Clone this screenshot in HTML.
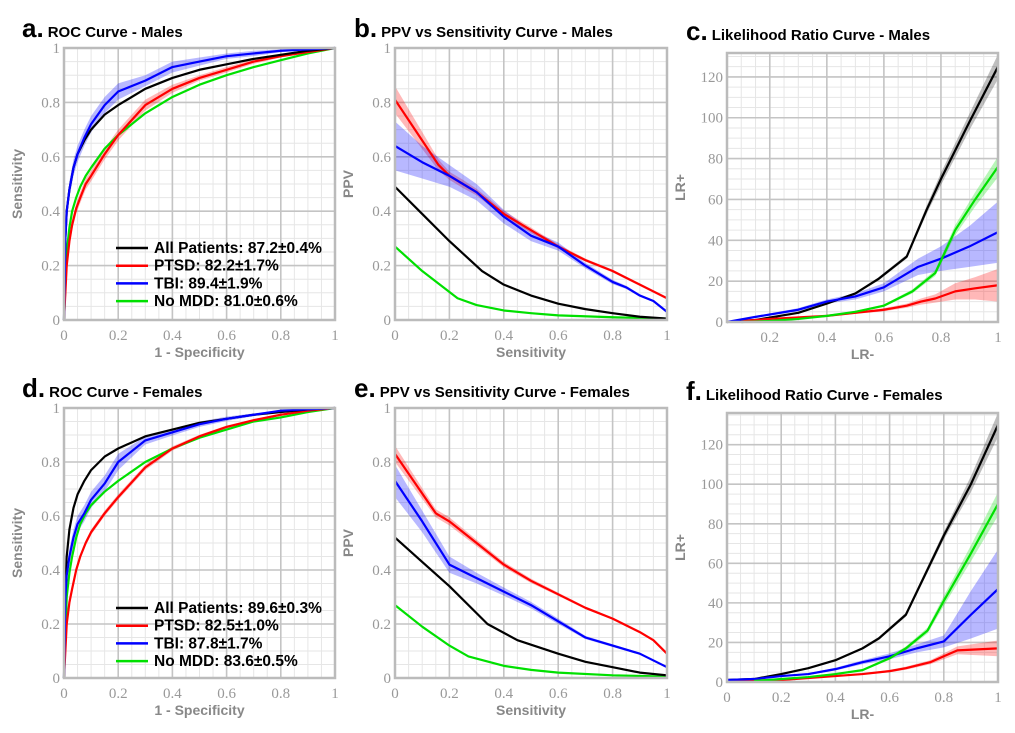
<!DOCTYPE html>
<html><head><meta charset="utf-8"><style>
body{margin:0;background:#fff;}
svg{display:block;}
.tick{font-family:"Liberation Serif",serif;font-size:15px;fill:#999;}
.axt{font-family:"Liberation Sans",sans-serif;font-size:14px;font-weight:bold;fill:#888;}
.ttl{font-family:"Liberation Sans",sans-serif;font-size:15px;font-weight:bold;fill:#000;}
.ltr{font-family:"Liberation Sans",sans-serif;font-size:26px;font-weight:bold;fill:#000;}
.leg{font-family:"Liberation Sans",sans-serif;font-size:15.5px;font-weight:bold;fill:#000;}
</style></head><body>
<svg id="fig" width="1015" height="733" viewBox="0 0 1015 733"></svg>
<script>
// ---------- data ----------
const colors = {all:'#000000', ptsd:'#ff0000', tbi:'#0000ff', nomdd:'#00e000'};
// Panel a: ROC males
const aAllX=[0,0.005,0.01,0.02,0.035,0.05,0.075,0.1,0.15,0.2,0.3,0.4,0.5,0.6,0.7,0.8,0.9,1];
const aAllY=[0,0.3,0.4,0.48,0.56,0.61,0.66,0.7,0.755,0.79,0.85,0.89,0.92,0.94,0.96,0.975,0.99,1];
const aTbiX=[0,0.005,0.01,0.02,0.035,0.05,0.075,0.1,0.15,0.2,0.3,0.4,0.5,0.6,0.7,0.8,1];
const aTbiY=[0,0.3,0.4,0.48,0.56,0.61,0.67,0.72,0.79,0.84,0.88,0.93,0.95,0.97,0.98,0.99,1];
const aTbiE=[0,0.02,0.02,0.03,0.03,0.03,0.03,0.03,0.03,0.03,0.02,0.02,0.015,0.01,0.01,0.005,0];
const aPtsdX=[0,0.01,0.02,0.03,0.045,0.06,0.08,0.1,0.15,0.2,0.3,0.4,0.5,0.6,0.7,0.8,0.9,1];
const aPtsdY=[0,0.2,0.29,0.35,0.41,0.45,0.5,0.53,0.61,0.68,0.79,0.85,0.89,0.92,0.95,0.97,0.985,1];
const aPtsdE=[0,0.02,0.02,0.02,0.02,0.02,0.02,0.02,0.02,0.02,0.02,0.015,0.01,0.01,0.008,0.005,0.003,0];
const aMddX=[0,0.01,0.02,0.03,0.045,0.06,0.08,0.1,0.15,0.2,0.3,0.4,0.5,0.6,0.7,0.8,0.9,1];
const aMddY=[0,0.25,0.34,0.4,0.45,0.49,0.53,0.56,0.63,0.68,0.76,0.82,0.865,0.9,0.93,0.955,0.98,1];
// Panel d: ROC females
const dAllX=[0,0.005,0.01,0.02,0.035,0.05,0.075,0.1,0.15,0.2,0.3,0.4,0.5,0.6,0.7,0.8,0.9,1];
const dAllY=[0,0.35,0.45,0.55,0.63,0.68,0.73,0.77,0.82,0.85,0.895,0.92,0.945,0.96,0.975,0.985,0.995,1];
const dTbiX=[0,0.005,0.01,0.02,0.035,0.05,0.075,0.1,0.15,0.2,0.3,0.4,0.5,0.6,0.7,0.8,1];
const dTbiY=[0,0.3,0.38,0.45,0.52,0.57,0.61,0.66,0.72,0.8,0.88,0.91,0.94,0.96,0.975,0.99,1];
const dTbiE=[0,0.02,0.02,0.03,0.03,0.03,0.03,0.03,0.03,0.03,0.015,0.012,0.01,0.008,0.005,0.003,0];
const dPtsdX=[0,0.01,0.02,0.03,0.045,0.06,0.08,0.1,0.15,0.2,0.3,0.4,0.5,0.6,0.7,0.8,0.9,1];
const dPtsdY=[0,0.2,0.28,0.33,0.4,0.45,0.5,0.54,0.61,0.67,0.78,0.85,0.895,0.93,0.955,0.975,0.99,1];
const dPtsdE=[0,0.01,0.01,0.01,0.01,0.01,0.01,0.01,0.01,0.01,0.01,0.008,0.006,0.005,0.004,0.003,0.002,0];
const dMddX=[0,0.01,0.02,0.03,0.045,0.06,0.08,0.1,0.15,0.2,0.3,0.4,0.5,0.6,0.7,0.8,0.9,1];
const dMddY=[0,0.3,0.39,0.45,0.52,0.57,0.61,0.64,0.69,0.73,0.8,0.85,0.89,0.92,0.95,0.965,0.985,1];
// Panel b: PPV males
const bPtsdX=[0,0.16,0.2,0.25,0.3,0.4,0.5,0.6,0.7,0.8,0.9,1];
const bPtsdY=[0.81,0.57,0.53,0.5,0.47,0.39,0.33,0.27,0.22,0.18,0.13,0.08];
const bPtsdE=[0.05,0.02,0.015,0.015,0.012,0.012,0.01,0.008,0.006,0.005,0.004,0.003];
const bTbiX=[0,0.1,0.2,0.3,0.4,0.5,0.6,0.7,0.8,0.85,0.9,0.95,1];
const bTbiY=[0.64,0.58,0.53,0.47,0.38,0.31,0.27,0.2,0.14,0.12,0.09,0.07,0.03];
const bTbiE=[0.09,0.06,0.04,0.03,0.025,0.02,0.015,0.01,0.008,0.006,0.005,0.004,0.003];
const bAllX=[0,0.1,0.2,0.32,0.4,0.5,0.6,0.7,0.8,0.9,1];
const bAllY=[0.49,0.39,0.29,0.18,0.13,0.09,0.06,0.04,0.025,0.012,0.005];
const bMddX=[0,0.1,0.23,0.3,0.4,0.5,0.6,0.8,1];
const bMddY=[0.27,0.18,0.08,0.055,0.035,0.025,0.017,0.01,0.005];
// Panel e: PPV females
const ePtsdX=[0,0.15,0.2,0.3,0.4,0.5,0.6,0.7,0.8,0.9,0.95,1];
const ePtsdY=[0.83,0.61,0.58,0.5,0.42,0.36,0.31,0.26,0.22,0.17,0.14,0.09];
const ePtsdE=[0.03,0.015,0.015,0.012,0.01,0.008,0.006,0.005,0.004,0.003,0.003,0.003];
const eTbiX=[0,0.1,0.2,0.3,0.4,0.5,0.6,0.7,0.8,0.9,1];
const eTbiY=[0.73,0.58,0.42,0.37,0.32,0.27,0.21,0.15,0.12,0.09,0.04];
const eTbiE=[0.06,0.04,0.03,0.02,0.015,0.012,0.01,0.006,0.005,0.004,0.003];
const eAllX=[0,0.1,0.2,0.34,0.45,0.6,0.7,0.8,0.9,1];
const eAllY=[0.52,0.43,0.34,0.2,0.14,0.09,0.06,0.04,0.02,0.01];
const eMddX=[0,0.1,0.2,0.27,0.4,0.5,0.6,0.8,1];
const eMddY=[0.27,0.19,0.12,0.08,0.045,0.03,0.02,0.01,0.005];
// Panel c: LR males
const cAllX=[0.05,0.15,0.3,0.4,0.5,0.58,0.68,0.75,0.8,0.9,1];
const cAllY=[0,1,4.5,9,14,21,32,55,70,98,125];
const cAllE=[0,0,0.3,0.5,0.5,0.8,1,2,3,4,6];
const cTbiX=[0.05,0.15,0.3,0.4,0.5,0.6,0.72,0.8,0.9,1];
const cTbiY=[0,2.5,6,10,12.5,17,27,31,37,44];
const cTbiE=[0,0.5,0.8,1,1.5,2,4,6,10,15];
const cMddX=[0.1,0.2,0.3,0.4,0.5,0.6,0.7,0.78,0.85,0.92,1];
const cMddY=[0,0.5,1.5,3,5,8,15,24,45,60,76];
const cMddE=[0,0,0.2,0.3,0.4,0.6,1,1.5,2.5,3.5,5];
const cPtsdX=[0.1,0.2,0.4,0.5,0.6,0.68,0.73,0.78,0.85,0.92,1];
const cPtsdY=[0.5,1.5,3,4.5,6,8,10,11.5,15,16.5,18];
const cPtsdE=[0,0.2,0.4,0.5,0.8,1,1.5,2,4,5.5,8];
// Panel f: LR females
const fAllX=[0,0.1,0.2,0.3,0.4,0.5,0.56,0.66,0.8,0.9,1];
const fAllY=[1,1.5,4,7,11,17,22,34,74,100,130];
const fAllE=[0,0,0.3,0.4,0.5,0.6,0.8,1,2,4,6];
const fTbiX=[0,0.1,0.2,0.3,0.4,0.5,0.6,0.7,0.8,0.9,1];
const fTbiY=[1,1.5,3,4,6.5,10,13,17,20.5,34,47];
const fTbiE=[0,0.2,0.3,0.5,0.7,1,1.5,2,3,12,20];
const fMddX=[0.1,0.2,0.3,0.4,0.5,0.6,0.66,0.74,0.8,0.9,1];
const fMddY=[0.5,1.5,2.5,4,6,12,17,26,41,65,90];
const fMddE=[0,0.1,0.2,0.3,0.5,0.8,1,1.5,2.5,4,6];
const fPtsdX=[0,0.2,0.4,0.5,0.6,0.66,0.75,0.8,0.85,1];
const fPtsdY=[0.5,1,3,4,5.5,7,10,13,16,17];
const fPtsdE=[0,0.1,0.3,0.4,0.6,0.8,1,1.5,2,4];
const legendA=['All Patients: 87.2\u00b10.4%','PTSD: 82.2\u00b11.7%','TBI: 89.4\u00b11.9%','No MDD: 81.0\u00b10.6%'];
const legendD=['All Patients: 89.6\u00b10.3%','PTSD: 82.5\u00b11.0%','TBI: 87.8\u00b11.7%','No MDD: 83.6\u00b10.5%'];
const unitTicks=[0,0.2,0.4,0.6,0.8,1];
const unitTickLabels=['0','0.2','0.4','0.6','0.8','1'];
const lrXTicks=[0.2,0.4,0.6,0.8,1];
const lrXLabelsC=['0.2','0.4','0.6','0.8','1'];
const lrXTicksF=[0,0.2,0.4,0.6,0.8,1];
const lrXLabelsF=['0','0.2','0.4','0.6','0.8','1'];
const lrYTicks=[0,20,40,60,80,100,120];
const lrYLabels=['0','20','40','60','80','100','120'];

// ---------- drawing ----------
const NS='http://www.w3.org/2000/svg';
const svg=document.getElementById('fig');
function el(tag,attrs,parent){const e=document.createElementNS(NS,tag);for(const k in attrs)e.setAttribute(k,attrs[k]);(parent||svg).appendChild(e);return e;}
function txt(s,attrs,parent){const e=el('text',attrs,parent);e.textContent=s;return e;}
const legendColors=[colors.all,colors.ptsd,colors.tbi,colors.nomdd];

function panel(o){
  const g=el('g',{});
  
  
  const sx=v=>o.L+(v-o.x0)/(o.x1-o.x0)*(o.R-o.L);
  const sy=v=>o.B-(v-o.y0)/(o.y1-o.y0)*(o.B-o.T);
  for(let v=o.x0m;v<=o.x1+1e-9;v+=o.xminor){const x=sx(v);if(x<o.L||x>o.R)continue;el('line',{x1:x,y1:o.T,x2:x,y2:o.B,stroke:'#e6e6e6','stroke-width':1},g);}
  for(let v=o.y0;v<=o.y1+1e-9;v+=o.yminor){const y=sy(v);el('line',{x1:o.L,y1:y,x2:o.R,y2:y,stroke:'#e6e6e6','stroke-width':1},g);}
  o.xt.forEach(v=>el('line',{x1:sx(v),y1:o.T,x2:sx(v),y2:o.B,stroke:'#c4c4c4','stroke-width':1.6},g));
  o.yt.forEach(v=>el('line',{x1:o.L,y1:sy(v),x2:o.R,y2:sy(v),stroke:'#c4c4c4','stroke-width':1.6},g));
  o.series.forEach(s=>{
    if(!s.e)return;
    let up=s.x.map((x,i)=>sx(x)+','+sy(s.y[i]+s.e[i]));
    let lo=s.x.map((x,i)=>sx(x)+','+sy(Math.max(o.y0,s.y[i]-s.e[i]))).reverse();
    const p=el('polygon',{points:up.concat(lo).join(' '),fill:s.c,'fill-opacity':s.c=='#000000'?0.25:0.28},g);
    
    
  });
  o.series.forEach(s=>{
    const p=el('polyline',{points:s.x.map((x,i)=>sx(x)+','+sy(s.y[i])).join(' '),fill:'none',stroke:s.c,'stroke-width':2.2,'stroke-linejoin':'round'},g);
    
    
  });
  el('rect',{x:o.L,y:o.T,width:o.R-o.L,height:o.B-o.T,fill:'none',stroke:'#bbbbbb','stroke-width':2.5},g);
  o.xt.forEach((v,i)=>{const t=txt(o.xl[i],{x:sx(v),y:o.B+20,'text-anchor':'middle',class:'tick'},g);
    });
  o.yt.forEach((v,i)=>{const t=txt(o.yl[i],{x:o.L-4,y:sy(v)+5,'text-anchor':'end',class:'tick'},g);
    });
  const xa=txt(o.xlab,{x:(o.L+o.R)/2,y:o.B+37,'text-anchor':'middle',class:'axt'},g);
  
  const ycx=o.L-42, ycy=(o.T+o.B)/2;
  const ya=txt(o.ylab,{x:ycx,y:ycy,'text-anchor':'middle',class:'axt',transform:'rotate(-90 '+ycx+' '+ycy+')'},g);
  
  const tt=el('text',{x:o.tx,y:o.ty},g);
  
  const t1=el('tspan',{class:'ltr'},tt);t1.textContent=o.letter;
  const t2=el('tspan',{class:'ttl',dx:4},tt);t2.textContent=o.title;
  if(o.legend){
    const lg=el('g',{},g);
    
    o.legend.forEach((s,i)=>{
      const y=o.legY+i*17.7;
      const ln=el('line',{x1:116,y1:y,x2:148,y2:y,stroke:legendColors[i],'stroke-width':2.5},lg);
      
      const t=txt(s,{x:154,y:y+5,class:'leg'},lg);
      
    });
  }
}

const roc=(L,R,T,B)=>({L,R,T,B,x0:0,x1:1,y0:0,y1:1,x0m:0,xminor:0.05,yminor:0.05,xt:unitTicks,yt:unitTicks,xl:unitTickLabels,yl:unitTickLabels});

panel(Object.assign(roc(64,335,48,320),{name:'panel-a-roc-males',letter:'a.',title:'ROC Curve - Males',tx:22,ty:37,xlab:'1 - Specificity',ylab:'Sensitivity',
 series:[{n:'no-mdd',c:colors.nomdd,x:aMddX,y:aMddY},{n:'ptsd',c:colors.ptsd,x:aPtsdX,y:aPtsdY,e:aPtsdE},{n:'all-patients',c:colors.all,x:aAllX,y:aAllY},{n:'tbi',c:colors.tbi,x:aTbiX,y:aTbiY,e:aTbiE}],
 legend:legendA,legY:248}));
panel(Object.assign(roc(395,667,48,320),{name:'panel-b-ppv-males',letter:'b.',title:'PPV vs Sensitivity Curve - Males',tx:354,ty:37,xlab:'Sensitivity',ylab:'PPV',
 series:[{n:'no-mdd',c:colors.nomdd,x:bMddX,y:bMddY},{n:'all-patients',c:colors.all,x:bAllX,y:bAllY},{n:'ptsd',c:colors.ptsd,x:bPtsdX,y:bPtsdY,e:bPtsdE},{n:'tbi',c:colors.tbi,x:bTbiX,y:bTbiY,e:bTbiE}]}));
panel({name:'panel-c-lr-males',L:727,R:998,T:53,B:322,x0:0.05,x1:1,y0:0,y1:131.7,x0m:0.05,xminor:0.05,yminor:5,xt:lrXTicks,xl:lrXLabelsC,yt:lrYTicks,yl:lrYLabels,
 letter:'c.',title:'Likelihood Ratio Curve - Males',tx:686,ty:40,xlab:'LR-',ylab:'LR+',
 series:[{n:'all-patients',c:colors.all,x:cAllX,y:cAllY,e:cAllE},{n:'ptsd',c:colors.ptsd,x:cPtsdX,y:cPtsdY,e:cPtsdE},{n:'tbi',c:colors.tbi,x:cTbiX,y:cTbiY,e:cTbiE},{n:'no-mdd',c:colors.nomdd,x:cMddX,y:cMddY,e:cMddE}]});
panel(Object.assign(roc(64,335,408,678),{name:'panel-d-roc-females',letter:'d.',title:'ROC Curve - Females',tx:22,ty:397,xlab:'1 - Specificity',ylab:'Sensitivity',
 series:[{n:'no-mdd',c:colors.nomdd,x:dMddX,y:dMddY},{n:'ptsd',c:colors.ptsd,x:dPtsdX,y:dPtsdY,e:dPtsdE},{n:'all-patients',c:colors.all,x:dAllX,y:dAllY},{n:'tbi',c:colors.tbi,x:dTbiX,y:dTbiY,e:dTbiE}],
 legend:legendD,legY:608}));
panel(Object.assign(roc(395,667,408,678),{name:'panel-e-ppv-females',letter:'e.',title:'PPV vs Sensitivity Curve - Females',tx:354,ty:397,xlab:'Sensitivity',ylab:'PPV',
 series:[{n:'no-mdd',c:colors.nomdd,x:eMddX,y:eMddY},{n:'all-patients',c:colors.all,x:eAllX,y:eAllY},{n:'ptsd',c:colors.ptsd,x:ePtsdX,y:ePtsdY,e:ePtsdE},{n:'tbi',c:colors.tbi,x:eTbiX,y:eTbiY,e:eTbiE}]}));
panel({name:'panel-f-lr-females',L:727,R:998,T:413,B:682,x0:0,x1:1,y0:0,y1:136,x0m:0,xminor:0.05,yminor:5,xt:lrXTicksF,xl:lrXLabelsF,yt:lrYTicks,yl:lrYLabels,
 letter:'f.',title:'Likelihood Ratio Curve - Females',tx:686,ty:400,xlab:'LR-',ylab:'LR+',
 series:[{n:'all-patients',c:colors.all,x:fAllX,y:fAllY,e:fAllE},{n:'ptsd',c:colors.ptsd,x:fPtsdX,y:fPtsdY,e:fPtsdE},{n:'tbi',c:colors.tbi,x:fTbiX,y:fTbiY,e:fTbiE},{n:'no-mdd',c:colors.nomdd,x:fMddX,y:fMddY,e:fMddE}]});
</script>
</body></html>
